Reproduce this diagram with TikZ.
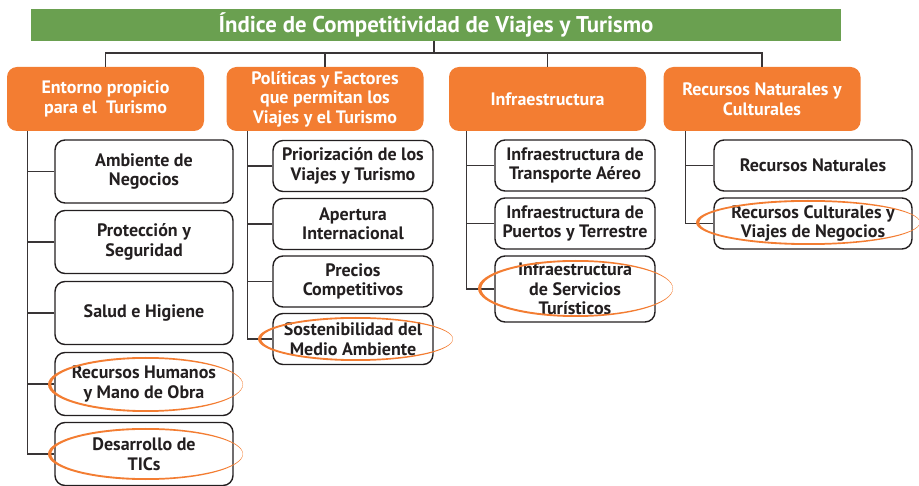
\documentclass[tikz,border=0pt]{standalone}
\usepackage{fontspec}
\setmainfont{PT Sans}
\usepackage{tikz}
\usetikzlibrary{positioning}
\definecolor{naranja}{RGB}{243,125,50}
\definecolor{verde}{RGB}{106,160,80}
\definecolor{tinta}{RGB}{35,31,32}
\tikzset{
    x=1pt, y=-1pt,
    titulo/.style={
        fill=verde, text=white,
        font=\bfseries\fontsize{22.8}{25}\selectfont,
        minimum width=810pt, minimum height=32pt, inner sep=0pt
    },
    cat/.style={
        fill=naranja, text=white, rounded corners=10pt,
        font=\bfseries\fontsize{18}{19.5}\selectfont, align=center,
        minimum width=197pt, minimum height=64pt, inner sep=0pt
    },
    sub/.style={
        draw=tinta, line width=1.4pt, rounded corners=10pt, text=tinta,
        font=\bfseries\fontsize{18}{19.5}\selectfont, align=center,
        minimum height=51pt, inner sep=0pt
    },
    rama/.style={draw=tinta!90, line width=1.3pt},
    aro/.style={fill=naranja, even odd rule}
}
\newcommand{\resalta}[3]{%
    \fill[aro] (#1) ellipse [x radius=#2, y radius=#3]
    ([xshift=1.5pt]#1) ellipse [x radius=#2-1.8, y radius=#3-1.8];}

\begin{document}
\begin{tikzpicture}
	\useasboundingbox (0,0) rectangle (919,486);
	\node[titulo] at (436,25) (t) {Índice de Competitividad de Viajes y Turismo};
	% categorias
	\node[cat] at (105.5,99) (c1) {Entorno propicio\\para el \ Turismo};
	\node[cat] at (325,99) (c2) {Políticas y Factores\\que permitan los\\Viajes y el Turismo};
	\node[cat] at (547.5,99) (c3) {Infraestructura};
	\node[cat] at (762,99) (c4) {Recursos Naturales y\\Culturales};
	% pilares
	\node[sub,minimum width=178pt,minimum height=63pt] at (144,171.5) (s11) {Ambiente de\\Negocios};
	\node[sub,minimum width=178pt,minimum height=63pt] at (144,242) (s12) {Protección y\\Seguridad};
	\node[sub,minimum width=178pt,minimum height=63pt] at (144,313) (s13) {Salud e Higiene};
	\node[sub,minimum width=178pt,minimum height=63pt] at (144,384) (s14) {Recursos Humanos\\y Mano de Obra};
	\node[sub,minimum width=178pt,minimum height=63pt] at (144,454) (s15) {Desarrollo de\\TICs};
	\node[sub,minimum width=160pt] at (353,166) (s21) {Priorización de los\\Viajes y Turismo};
	\node[sub,minimum width=160pt] at (353,224) (s22) {Apertura\\Internacional};
	\node[sub,minimum width=160pt] at (353,281.5) (s23) {Precios\\Competitivos};
	\node[sub,minimum width=160pt] at (353,339) (s24) {Sostenibilidad del\\Medio Ambiente};
	\node[sub,minimum width=160pt] at (575,165.5) (s31) {Infraestructura de\\Transporte Aéreo};
	\node[sub,minimum width=160pt] at (575,223.5) (s32) {Infraestructura de\\Puertos y Terrestre};
	\node[sub,minimum width=160pt,minimum height=66pt] at (575,289) (s33) {Infraestructura\\de Servicios\\Turísticos};
	\node[sub,minimum width=198pt] at (813,165.5) (s41) {Recursos Naturales};
	\node[sub,minimum width=198pt] at (813,223.5) (s42) {Recursos Culturales y\\Viajes de Negocios};
	% conectores
	\coordinate (j) at (434,53);
	\draw[rama] (t.south -| j) -- (j);
	\draw[rama] (c1.north) -- (c1.north |- j) -- (c4.north |- j) -- (c4.north);
	\draw[rama] (c2.north |- j) -- (c2.north);
	\draw[rama] (c3.north |- j) -- (c3.north);
	\coordinate (k1) at ([xshift=21pt]c1.south west);
	\coordinate (k2) at ([xshift=21pt]c2.south west);
	\coordinate (k3) at ([xshift=18pt]c3.south west);
	\coordinate (k4) at ([xshift=22pt]c4.south west);
	\draw[rama] (k1) |- (s15.west);
	\draw[rama] (k2) |- (s24.west);
	\draw[rama] (k3) |- (s33.west);
	\draw[rama] (k4) |- (s42.west);
	\foreach \i in {1,...,4} \draw[rama] (s1\i.west) -- (s1\i.west -| k1);
	\foreach \i in {1,2,3} \draw[rama] (s2\i.west) -- (s2\i.west -| k2);
	\foreach \i in {1,2} \draw[rama] (s3\i.west) -- (s3\i.west -| k3);
	\draw[rama] (s41.west) -- (s41.west -| k4);
	% resaltados
	\resalta{145.5,384.5}{97.5}{27.5}
	\resalta{145.5,454}{97.5}{26}
	\resalta{355.5,339}{97.5}{22}
	\resalta{575.5,288.5}{97.5}{28.5}
	\resalta{808,222.5}{112}{22.5}
\end{tikzpicture}
\end{document}
